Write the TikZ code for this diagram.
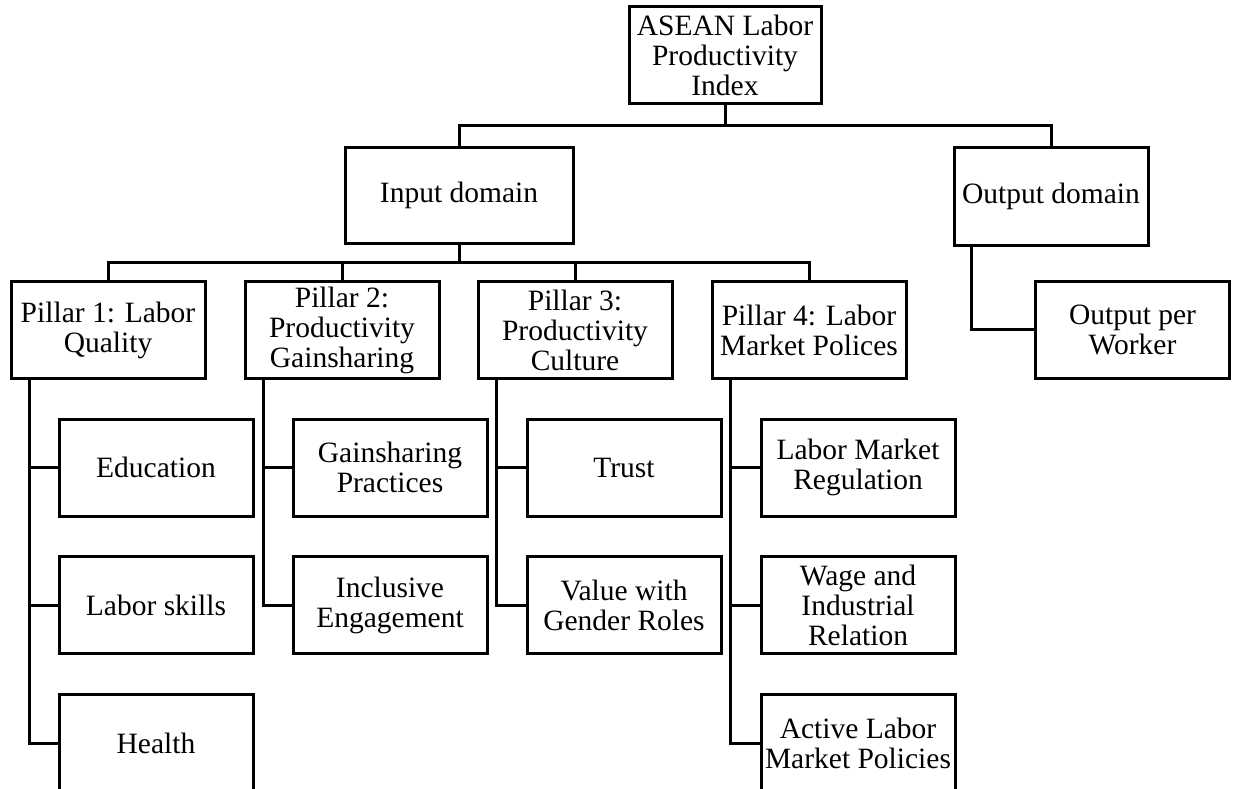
\documentclass[tikz,border=0pt]{standalone}
\usepackage{fontspec}
\setmainfont{Liberation Serif}
\begin{document}
\begin{tikzpicture}[x=1pt,y=-1pt,
  box/.style={draw,line width=3pt,minimum width=194pt,minimum height=97pt,
    inner sep=0pt,align=center,font=\fontsize{29.5}{30}\selectfont},
  link/.style={line width=3pt,line join=miter}]
\useasboundingbox (0,0) rectangle (1234,789);
% nodes
\node[box,minimum width=192pt] (top) at (725,55.5) {ASEAN Labor\\Productivity\\Index};
\node[box,minimum width=228pt,minimum height=95pt] (input) at (459,195.5) {Input domain};
\node[box] (output) at (1051,196.5) {Output domain};
\node[box] (opw) at (1132.5,329.5) {Output per\\Worker};
\node[box] (p1) at (108,330) {Pillar 1: Labor\\Quality};
\node[box] (p2) at (342,330) {Pillar 2:\\Productivity\\Gainsharing};
\node[box] (p3) at (575,330) {Pillar 3:\\Productivity\\Culture};
\node[box] (p4) at (809,330) {Pillar 4: Labor\\Market Polices};
\node[box] (edu) at (156,467.5) {Education};
\node[box] (skill) at (156,605) {Labor skills};
\node[box] (health) at (156,743) {Health};
\node[box] (gain) at (390,467.5) {Gainsharing\\Practices};
\node[box] (incl) at (390,605) {Inclusive\\Engagement};
\node[box] (trust) at (624,467.5) {Trust};
\node[box] (value) at (624,605) {Value with\\Gender Roles};
\node[box] (lmr) at (858,467.5) {Labor Market\\Regulation};
\node[box] (wage) at (858,605) {Wage and\\Industrial\\Relation};
\node[box] (almp) at (858,743) {Active Labor\\Market Policies};
% bus levels
\coordinate (bus1) at (0,126);
\coordinate (bus2) at (0,262);
% connectors
\draw[link] (top.south) -- (top.south |- bus1) -| (input.north);
\draw[link] (top.south |- bus1) -| (output.north);
\draw[link] (input.south) -- (input.south |- bus2) -| (p1.north);
\draw[link] (input.south |- bus2) -| (p2.north);
\draw[link] (input.south |- bus2) -| (p3.north);
\draw[link] (input.south |- bus2) -| (p4.north);
\draw[link] ([xshift=19pt]output.south west) |- (opw.west);
\draw[link] ([xshift=20pt]p1.south west) |- (edu.west);
\draw[link] ([xshift=20pt]p1.south west) |- (skill.west);
\draw[link] ([xshift=20pt]p1.south west) |- (health.west);
\draw[link] ([xshift=20pt]p2.south west) |- (gain.west);
\draw[link] ([xshift=20pt]p2.south west) |- (incl.west);
\draw[link] ([xshift=20pt]p3.south west) |- (trust.west);
\draw[link] ([xshift=20pt]p3.south west) |- (value.west);
\draw[link] ([xshift=20pt]p4.south west) |- (lmr.west);
\draw[link] ([xshift=20pt]p4.south west) |- (wage.west);
\draw[link] ([xshift=20pt]p4.south west) |- (almp.west);
\end{tikzpicture}
\end{document}
